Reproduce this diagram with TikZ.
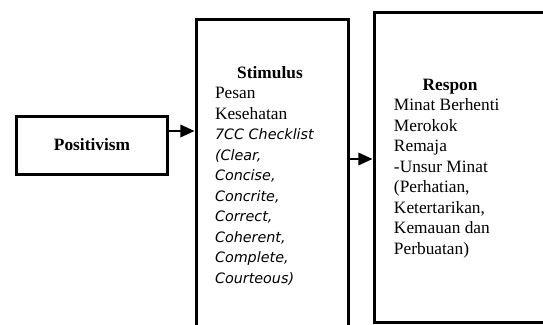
\documentclass[tikz,border=0pt]{standalone}
\usepackage{fontspec}
\setmainfont{Liberation Serif}
\newfontfamily\checkfont{DejaVu Sans}
\usetikzlibrary{arrows.meta}

\newcommand{\ck}[1]{{\checkfont\itshape\fontsize{8.6}{12.3}\selectfont #1}}

\begin{document}
\begin{tikzpicture}[x=0.6pt,y=-0.6pt,->,>={Triangle[length=8.5pt,width=7.5pt]},line width=1.2pt]
    \tikzstyle{every node}=[font=\fontsize{10.4}{12.3}\selectfont]
    \tikzstyle{box}=[draw, rectangle, line width=1.8pt, inner sep=0pt]
    \tikzstyle{title}=[anchor=base, inner sep=0pt, font=\fontsize{10.4}{12.3}\selectfont\bfseries]
    % multi-line text: anchored at the baseline of its last line
    \tikzstyle{body}=[align=left, anchor=base west, inner sep=0pt]

    \useasboundingbox (0,0) rectangle (543,324);
    \clip (0,0) rectangle (543,324);

    \node[box, minimum width=91.2pt, minimum height=34.8pt, font=\fontsize{10.4}{12.3}\selectfont\bfseries] (P) at (92,145) {Positivism};
    \node[box, minimum width=91.8pt, minimum height=198.6pt] (S) at (272.5,184.5) {};
    \node[box, minimum width=111.6pt, minimum height=186pt] (R) at (467,167) {};

    \node[title] (St) at (270,78) {Stimulus};
    \node[body] (Sb) at (214,283) {Pesan\\Kesehatan\\\ck{7CC Checklist}\\\ck{(Clear,}\\\ck{Concise,}\\\ck{Concrite,}\\\ck{Correct,}\\\ck{Coherent,}\\\ck{Complete,}\\\ck{Courteous)}};

    \node[title] (Rt) at (450,90.7) {Respon};
    \node[body] (Rb) at (393,254) {Minat Berhenti\\Merokok\\Remaja\\-Unsur Minat\\(Perhatian,\\Ketertarikan,\\Kemauan dan\\Perbuatan)};

    \draw (P.east |- 0,131) -- (S.west |- 0,131);
    \draw (S.east |- 0,159) -- (R.west |- 0,159);
\end{tikzpicture}
\end{document}
